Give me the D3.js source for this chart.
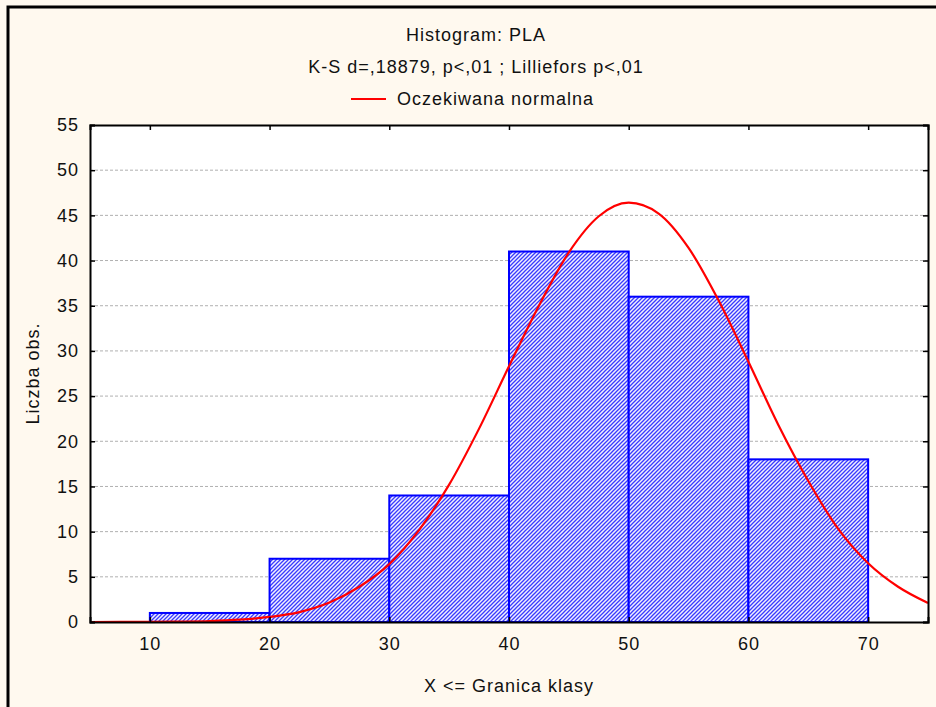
<!DOCTYPE html>
<html>
<head>
    <script src="https://d3js.org/d3.v7.min.js"></script>
    <style>
        body { margin: 0; background: #fff9ef; }
        svg text { font-family: "Liberation Sans", Arial, sans-serif; font-size: 18px; letter-spacing: 1px; fill: #111; }
    </style>
</head>
<body>
<svg id="chart" width="936" height="707"></svg>
<script>
    // histogram bins (upper class limits) and counts
    const binStart = [10, 20, 30, 40, 50, 60];
    const binEnd   = [20, 30, 40, 50, 60, 70];
    const counts   = [1, 7, 14, 41, 36, 18];

    // expected normal curve
    const curveX = [5, 7.5, 10, 12.5, 15, 17.5, 20, 22.5, 25, 27.5, 30, 32.5, 35, 37.5, 40,
                    42.5, 45, 47.5, 50, 52.5, 55, 57.5, 60, 62.5, 65, 67.5, 70, 72.5, 75];
    const curveY = [0.0, 0.01, 0.02, 0.05, 0.11, 0.26, 0.56, 1.1, 2.15, 3.9, 6.4, 10.2, 15.2, 21.4, 28.3,
                    35.0, 40.9, 44.9, 46.4, 45.2, 41.4, 35.6, 28.8, 21.8, 15.6, 10.3, 6.5, 3.9, 2.1];

    const xTicks = [10, 20, 30, 40, 50, 60, 70];
    const yTicks = [0, 5, 10, 15, 20, 25, 30, 35, 40, 45, 50, 55];

    const svg = d3.select("#chart");
    const mLeft = 90, mRight = 928, mTop = 125, mBottom = 622;

    const x = d3.scaleLinear().domain([5, 75]).range([mLeft, mRight]);
    const y = d3.scaleLinear().domain([0, 55]).range([mBottom, mTop]);

    // outer frame
    svg.append("rect")
        .attr("x", 8).attr("y", 7)
        .attr("width", 960).attr("height", 760)
        .attr("fill", "#fff9ef")
        .attr("stroke", "black").attr("stroke-width", 3);

    // plot area
    svg.append("rect")
        .attr("x", mLeft).attr("y", mTop)
        .attr("width", mRight - mLeft).attr("height", mBottom - mTop)
        .attr("fill", "white");

    // hatch pattern
    const defs = svg.append("defs");
    const pat = defs.append("pattern")
        .attr("id", "hatch")
        .attr("patternUnits", "userSpaceOnUse")
        .attr("width", 4).attr("height", 4);
    pat.append("rect").attr("width", 4).attr("height", 4).attr("fill", "#f0f0ff");
    pat.append("path")
        .attr("d", "M-1,1 l2,-2 M0,4 l4,-4 M3,5 l2,-2")
        .attr("stroke", "#3a3aff").attr("stroke-width", 1.3);

    defs.append("clipPath").attr("id", "clip")
        .append("rect")
        .attr("x", mLeft).attr("y", mTop)
        .attr("width", mRight - mLeft).attr("height", mBottom - mTop);

    // grid lines
    svg.append("g")
        .selectAll("line")
        .data(yTicks.filter(d => d > 0 && d < 55))
        .join("line")
        .attr("x1", mLeft).attr("x2", mRight)
        .attr("y1", d => y(d)).attr("y2", d => y(d))
        .attr("stroke", "#b0b0b0")
        .attr("stroke-dasharray", "3,2");

    // bars
    svg.append("g")
        .selectAll("rect")
        .data(counts)
        .join("rect")
        .attr("x", (d, i) => x(binStart[i]))
        .attr("y", d => y(d))
        .attr("width", (d, i) => x(binEnd[i]) - x(binStart[i]))
        .attr("height", d => y(0) - y(d))
        .attr("fill", "url(#hatch)")
        .attr("stroke", "#0000ff")
        .attr("stroke-width", 2);

    // normal curve
    const pts = curveX.map((d, i) => [d, curveY[i]]);
    svg.append("path")
        .datum(pts)
        .attr("clip-path", "url(#clip)")
        .attr("fill", "none")
        .attr("stroke", "#ff0000")
        .attr("stroke-width", 2.2)
        .attr("d", d3.line().x(d => x(d[0])).y(d => y(d[1])).curve(d3.curveMonotoneX));

    // axes (ticks pointing inward)
    svg.append("g")
        .attr("transform", `translate(0,${mBottom})`)
        .call(d3.axisBottom(x).tickValues(xTicks).tickSize(-5).tickPadding(15));
    svg.append("g")
        .attr("transform", `translate(0,${mTop})`)
        .call(d3.axisTop(x).tickValues(xTicks).tickSize(-5).tickFormat(""));
    svg.append("g")
        .attr("transform", `translate(${mLeft},0)`)
        .call(d3.axisLeft(y).tickValues(yTicks).tickSize(-5).tickPadding(11));
    svg.append("g")
        .attr("transform", `translate(${mRight},0)`)
        .call(d3.axisRight(y).tickValues(yTicks).tickSize(-5).tickFormat(""));

    svg.selectAll(".domain").attr("stroke", "black").attr("stroke-width", 2);
    svg.selectAll(".tick line").attr("stroke", "black").attr("stroke-width", 1.5);
    svg.selectAll(".tick text")
        .style("font-family", "'Liberation Sans', Arial, sans-serif")
        .style("font-size", "18px")
        .style("letter-spacing", "1px")
        .attr("fill", "#111");

    // titles
    const cx = 476;
    svg.append("text").attr("x", cx).attr("y", 41).attr("text-anchor", "middle").text("Histogram: PLA");
    svg.append("text").attr("x", cx).attr("y", 73).attr("text-anchor", "middle")
        .text("K-S d=,18879, p<,01 ; Lilliefors p<,01");

    // legend
    svg.append("line")
        .attr("x1", 351).attr("x2", 386)
        .attr("y1", 99).attr("y2", 99)
        .attr("stroke", "#ff0000").attr("stroke-width", 2);
    svg.append("text").attr("x", 397).attr("y", 105).text("Oczekiwana normalna");

    // axis titles
    svg.append("text")
        .attr("transform", `translate(39,${(mTop + mBottom) / 2}) rotate(-90)`)
        .attr("text-anchor", "middle")
        .text("Liczba obs.");
    svg.append("text")
        .attr("x", (mLeft + mRight) / 2).attr("y", 692)
        .attr("text-anchor", "middle")
        .text("X <= Granica klasy");
</script>
</body>
</html>
